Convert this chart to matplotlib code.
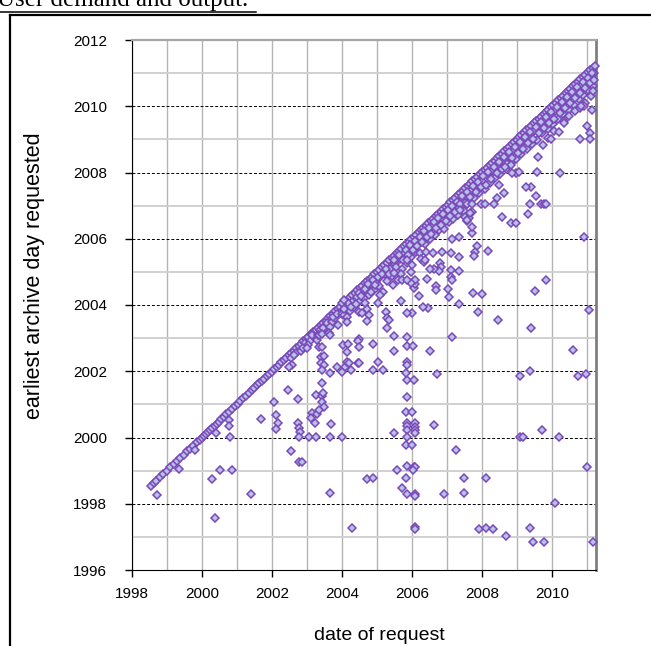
import matplotlib
matplotlib.use('Agg')
import matplotlib.pyplot as plt
from matplotlib.lines import Line2D
from matplotlib.ticker import MultipleLocator

plt.rcParams['font.family'] = ['Liberation Sans', 'DejaVu Sans']

# requests for the same day (earliest day requested = date of request)
same_day = [1998.55, 1998.62, 1998.70, 1998.80, 1998.90, 1999.00, 1999.10, 1999.20, 1999.28,
            1999.38, 1999.48, 1999.58, 1999.66, 1999.75, 1999.85, 1999.93, 2000.00, 2000.06,
            2000.12, 2000.18, 2000.24, 2000.30, 2000.36, 2000.42, 2000.48, 2000.55, 2000.62,
            2000.70, 2000.78, 2000.86, 2000.94, 2001.02, 2001.10, 2001.18, 2001.26, 2001.34,
            2001.42, 2001.50, 2001.57, 2001.64, 2001.71, 2001.78, 2001.85, 2001.92, 2001.99,
            2002.06, 2002.13, 2002.20, 2002.27, 2002.34, 2002.41, 2002.48, 2002.55, 2002.62,
            2002.69, 2002.76, 2002.83, 2002.90, 2002.97, 2003.04, 2003.11, 2003.18, 2003.25,
            2003.32, 2003.39, 2003.46, 2003.53, 2003.60, 2003.67, 2003.74, 2003.81, 2003.88,
            2003.95, 2004.02, 2004.09, 2004.16, 2004.23, 2004.30, 2004.37, 2004.44, 2004.51,
            2004.58, 2004.65, 2004.72, 2004.79, 2004.86, 2004.93, 2005.00, 2005.07, 2005.14,
            2005.21, 2005.28, 2005.35, 2005.42, 2005.49, 2005.56, 2005.63, 2005.70, 2005.77,
            2005.84, 2005.91, 2005.98, 2006.05, 2006.12, 2006.19, 2006.26, 2006.33, 2006.40,
            2006.47, 2006.54, 2006.61, 2006.68, 2006.75, 2006.82, 2006.89, 2006.96, 2007.03,
            2007.10, 2007.17, 2007.24, 2007.31, 2007.38, 2007.45, 2007.52, 2007.59, 2007.66,
            2007.73, 2007.80, 2007.87, 2007.94, 2008.01, 2008.08, 2008.15, 2008.22, 2008.29,
            2008.36, 2008.43, 2008.50, 2008.57, 2008.64, 2008.71, 2008.78, 2008.85, 2008.92,
            2008.99, 2009.06, 2009.13, 2009.20, 2009.27, 2009.34, 2009.41, 2009.48, 2009.55,
            2009.62, 2009.69, 2009.76, 2009.83, 2009.90, 2009.97, 2010.04, 2010.11, 2010.18,
            2010.25, 2010.32, 2010.39, 2010.46, 2010.53, 2010.60, 2010.67, 2010.74, 2010.81,
            2010.88, 2010.95, 2011.02, 2011.09, 2011.16, 2011.22]

# requests for recent days (band just under the diagonal)
recent_x = [2002.55, 2002.68, 2002.82, 2002.95, 2003.08, 2003.20, 2003.28, 2003.38, 2003.52, 2003.58,
            2003.72, 2003.80, 2003.88, 2003.95, 2004.05, 2004.12, 2004.22, 2004.28, 2004.35, 2004.42,
            2004.50, 2004.58, 2004.62, 2004.70, 2004.78, 2004.84, 2004.92, 2004.98, 2005.05, 2005.10,
            2005.18, 2005.22, 2005.30, 2005.38, 2005.42, 2005.52, 2005.58, 2005.66, 2005.72, 2005.78,
            2005.85, 2005.92, 2005.98, 2006.05, 2006.12, 2006.18, 2006.24, 2006.30, 2006.38, 2006.44,
            2006.52, 2006.58, 2006.66, 2006.72, 2006.78, 2006.86, 2006.92, 2006.98, 2007.05, 2007.12,
            2007.18, 2007.25, 2007.32, 2007.40, 2007.48, 2007.55, 2007.62, 2007.70, 2007.78, 2007.85,
            2007.92, 2008.00, 2008.08, 2008.15, 2008.22, 2008.30, 2008.38, 2008.45, 2008.52, 2008.60,
            2008.68, 2008.75, 2008.82, 2008.90, 2008.98, 2009.05, 2009.12, 2009.20, 2009.28, 2009.35,
            2009.42, 2009.50, 2009.58, 2009.65, 2009.72, 2009.80, 2009.88, 2009.95, 2010.02, 2010.10,
            2010.18, 2010.25, 2010.32, 2010.40, 2010.48, 2010.55, 2010.62, 2010.70, 2010.76, 2010.84,
            2010.90, 2010.98, 2011.04, 2011.10, 2011.16, 2011.20,
            2005.10, 2005.45, 2005.70, 2006.25, 2006.40, 2010.50, 2010.65, 2010.80, 2010.95, 2011.12,
            2011.18, 2010.35, 2009.90, 2010.05,
            2002.62, 2002.88, 2003.02, 2003.15, 2003.32, 2003.45, 2003.65, 2003.75, 2003.85, 2004.00,
            2004.08, 2004.18, 2004.25, 2004.40, 2004.48, 2004.55, 2004.66, 2004.74, 2004.82, 2004.88,
            2004.95, 2005.02, 2005.14, 2005.26, 2005.34, 2005.48, 2005.55, 2005.62, 2005.75, 2005.82,
            2005.88, 2005.95, 2006.02, 2006.08, 2006.15, 2006.22, 2006.28, 2006.35, 2006.42, 2006.48,
            2006.55, 2006.62, 2006.70, 2006.75, 2006.82, 2006.90, 2006.96, 2007.02, 2007.08, 2007.15,
            2007.22, 2007.28, 2007.35, 2007.44, 2007.52, 2007.58, 2007.66, 2007.74, 2007.82, 2007.88,
            2007.96, 2008.04, 2008.12, 2008.18, 2008.26, 2008.34, 2008.42, 2008.48, 2008.56, 2008.64,
            2008.72, 2008.78, 2008.86, 2008.94, 2009.02, 2009.08, 2009.16, 2009.24, 2009.32, 2009.38,
            2009.46, 2009.54, 2009.62, 2009.68, 2009.76, 2009.84, 2009.92, 2009.98, 2010.06, 2010.14,
            2010.22, 2010.28, 2010.36, 2010.44, 2010.52, 2010.58, 2010.66, 2010.72, 2010.80, 2010.88,
            2010.94, 2011.02, 2011.08, 2011.14, 2011.20]
recent_y = [2002.40, 2002.55, 2002.60, 2002.85, 2002.90, 2003.05, 2002.95, 2003.25, 2003.30, 2003.45,
            2003.50, 2003.62, 2003.40, 2003.75, 2003.85, 2003.98, 2003.82, 2004.10, 2003.95, 2004.25,
            2004.10, 2004.38, 2004.20, 2004.52, 2004.30, 2004.62, 2004.45, 2004.70, 2004.58, 2004.85,
            2004.40, 2004.95, 2004.72, 2005.10, 2004.88, 2005.25, 2005.02, 2005.40, 2005.10, 2005.55,
            2005.28, 2005.70, 2005.45, 2005.82, 2005.60, 2005.95, 2005.58, 2006.08, 2005.85, 2006.20,
            2005.98, 2006.35, 2006.12, 2006.48, 2006.25, 2006.62, 2006.30, 2006.75, 2006.52, 2006.88,
            2006.60, 2007.02, 2006.72, 2007.15, 2006.95, 2007.30, 2007.12, 2007.45, 2007.22, 2007.60,
            2007.38, 2007.75, 2007.50, 2007.92, 2007.68, 2008.05, 2007.82, 2008.20, 2007.95, 2008.35,
            2008.10, 2008.50, 2008.28, 2008.65, 2008.40, 2008.80, 2008.55, 2008.95, 2008.72, 2009.10,
            2008.85, 2009.25, 2008.98, 2009.40, 2009.18, 2009.55, 2009.30, 2009.72, 2009.45, 2009.85,
            2009.62, 2010.00, 2009.78, 2010.15, 2009.90, 2010.30, 2010.05, 2010.45, 2010.22, 2010.60,
            2010.35, 2010.72, 2010.50, 2010.88, 2010.62, 2011.00,
            2004.30, 2004.60, 2004.95, 2005.40, 2005.60, 2009.70, 2009.85, 2009.95, 2010.10, 2010.30,
            2010.45, 2009.55, 2009.05, 2009.25,
            2002.50, 2002.70, 2002.80, 2003.10, 2003.10, 2003.30, 2003.35, 2003.65, 2003.72, 2003.72,
            2003.90, 2004.05, 2003.95, 2004.02, 2004.35, 2004.28, 2004.48, 2004.62, 2004.40, 2004.75,
            2004.60, 2004.85, 2004.95, 2005.10, 2004.95, 2005.35, 2005.15, 2005.50, 2005.35, 2005.65,
            2005.50, 2005.80, 2005.65, 2005.92, 2005.78, 2006.05, 2005.90, 2006.22, 2006.05, 2006.32,
            2006.15, 2006.50, 2006.32, 2006.62, 2006.42, 2006.75, 2006.55, 2006.88, 2006.68, 2007.00,
            2006.82, 2007.12, 2006.92, 2007.28, 2007.08, 2007.42, 2007.25, 2007.58, 2007.40, 2007.72,
            2007.55, 2007.88, 2007.62, 2008.02, 2007.80, 2008.18, 2007.98, 2008.32, 2008.12, 2008.48,
            2008.25, 2008.62, 2008.45, 2008.78, 2008.60, 2008.92, 2008.70, 2009.08, 2008.90, 2009.22,
            2009.02, 2009.38, 2009.20, 2009.52, 2009.35, 2009.68, 2009.48, 2009.82, 2009.62, 2009.98,
            2009.80, 2010.12, 2009.95, 2010.28, 2010.10, 2010.42, 2010.25, 2010.58, 2010.40, 2010.72,
            2010.55, 2010.85, 2010.70, 2011.00, 2010.80]

# requests reaching further back into the archive
older_x = [1998.72, 1999.34, 1999.80, 2000.29, 2000.36, 2000.39, 2000.51, 2000.77, 2000.77, 2000.79,
           2000.86, 2001.40, 2001.68, 2002.06, 2002.12, 2002.17, 2002.12, 2002.46, 2002.55, 2002.75,
           2002.75, 2002.78, 2002.80, 2002.78, 2002.77, 2002.85, 2003.44, 2003.25, 2003.44, 2003.47,
           2003.42, 2003.15, 2003.30, 2003.50, 2003.35, 2003.12, 2003.22, 2003.06, 2003.25, 2003.65,
           2003.70, 2004.00, 2003.65, 2004.29, 2004.71, 2004.88, 2005.49, 2005.57, 2005.72, 2005.84,
           2005.87, 2005.86, 2006.06, 2005.86, 2005.84, 2006.00, 2005.87, 2005.87, 2005.87, 2005.87,
           2006.10, 2006.10, 2006.10, 2006.10, 2005.84, 2006.00, 2005.87, 2006.06, 2006.10, 2006.04,
           2006.10, 2006.10, 2006.10, 2006.10, 2006.63, 2006.91, 2007.27, 2007.49, 2007.49, 2007.93,
           2008.13, 2008.12, 2008.31, 2008.69, 2009.37, 2009.46, 2009.78, 2011.17, 2010.10, 2011.00,
           2009.10, 2009.18, 2009.72, 2010.20, 2009.10, 2009.37, 2010.74, 2010.98, 2010.61, 2009.41,
           2008.47, 2007.90, 2011.06, 2007.34, 2007.75, 2008.00, 2009.51, 2009.82, 2007.34, 2007.34,
           2007.85, 2007.80, 2007.77, 2008.18, 2010.91, 2008.58, 2008.82, 2008.96, 2009.32, 2007.37,
           2007.58, 2007.72, 2007.96, 2008.10, 2008.34, 2009.37, 2009.68, 2009.77, 2009.84, 2007.49,
           2007.72, 2007.53, 2007.63, 2007.58, 2010.91, 2010.84, 2011.15, 2011.01, 2011.10, 2011.10,
           2010.81, 2010.34, 2010.20, 2009.96, 2009.75, 2009.60, 2010.22, 2009.56, 2009.39, 2009.25,
           2009.55, 2008.63, 2008.44, 2008.49, 2008.96, 2009.06, 2008.87, 2008.82, 2008.67, 2007.12,
           2006.87, 2006.60, 2006.80, 2006.82, 2006.77, 2006.63, 2006.53, 2007.12, 2007.12, 2007.14,
           2006.44, 2006.69, 2006.69, 2007.03, 2007.06, 2006.20, 2006.47, 2006.32, 2007.15, 2006.51,
           2006.72, 2006.00, 2005.87, 2005.69, 2006.06, 2006.10, 2006.10, 2005.96, 2005.49, 2005.87,
           2005.87, 2006.04, 2005.49, 2005.87, 2005.87, 2005.82, 2005.25, 2005.30, 2005.34, 2005.03,
           2004.89, 2005.03, 2004.89, 2005.17, 2005.30, 2004.72, 2004.77, 2004.72, 2004.50, 2004.46,
           2004.49, 2004.15, 2004.03, 2004.18, 2004.46, 2004.50, 2004.27, 2004.08, 2004.15, 2004.20,
           2003.99, 2003.87, 2003.67, 2003.34, 2003.44, 2003.39, 2003.49, 2003.39, 2003.49, 2003.44,
           2003.34, 2003.44, 2003.63, 2003.67, 2003.01, 2002.58, 2002.49, 2004.00, 2004.05, 2004.06,
           2004.15, 2004.06, 2004.15, 2004.49, 2004.58, 2004.67, 2005.49, 2005.60, 2005.72, 2005.87,
           2005.96, 2006.00, 2005.87, 2006.34, 2006.38, 2007.15, 2007.34, 2007.72, 2007.72, 2007.58,
           2007.67, 2007.38]
older_y = [1998.26, 1999.05, 1999.61, 1998.74, 1997.58, 2000.13, 1999.02, 2000.53, 2000.35, 2000.01,
           1999.02, 1998.30, 2000.55, 2001.08, 2000.68, 2000.43, 2000.26, 2001.43, 1999.60, 2001.15,
           2000.43, 2000.30, 2000.18, 2000.03, 1999.27, 1999.26, 2001.64, 2001.28, 2001.25, 2001.35,
           2001.08, 2000.73, 2000.70, 2000.93, 2000.83, 2000.58, 2000.43, 2000.03, 2000.03, 2000.03,
           2000.41, 2000.03, 1998.32, 1997.26, 1998.74, 1998.77, 2000.13, 1999.02, 1998.47, 1998.77,
           1998.29, 2001.74, 2001.74, 2001.23, 2000.76, 2000.76, 2000.43, 2000.36, 2000.23, 2000.03,
           2000.43, 2000.33, 2000.23, 2000.13, 1999.77, 1999.77, 1999.14, 1999.10, 1999.12, 1999.02,
           1998.29, 1998.23, 1997.31, 1997.24, 2000.38, 1998.29, 1999.62, 1998.77, 1998.32, 1997.24,
           1998.77, 1997.28, 1997.24, 1997.03, 1997.26, 1996.86, 1996.86, 1996.86, 1998.03, 1999.12,
           2000.03, 2000.03, 2000.23, 2000.03, 2001.86, 2002.02, 2001.86, 2001.92, 2002.63, 2003.30,
           2003.55, 2003.79, 2003.85, 2004.02, 2004.37, 2004.34, 2004.42, 2004.75, 2005.03, 2005.44,
           2005.78, 2005.59, 2005.48, 2005.63, 2006.04, 2006.67, 2006.48, 2006.48, 2006.74, 2007.05,
           2007.05, 2007.05, 2007.05, 2007.05, 2007.05, 2007.05, 2007.05, 2007.05, 2007.05, 2006.85,
           2006.80, 2006.67, 2006.62, 2006.55, 2010.00, 2010.00, 2009.89, 2009.41, 2009.18, 2009.00,
           2009.01, 2009.49, 2009.21, 2009.00, 2008.83, 2008.46, 2008.00, 2008.02, 2007.57, 2007.57,
           2007.30, 2007.37, 2007.22, 2007.62, 2007.97, 2008.02, 2007.97, 2008.22, 2008.18, 2005.58,
           2005.59, 2005.56, 2005.26, 2005.16, 2005.03, 2005.09, 2005.09, 2005.06, 2004.84, 2004.75,
           2004.80, 2004.57, 2004.45, 2004.47, 2004.23, 2004.27, 2003.90, 2003.95, 2003.04, 2002.62,
           2001.92, 2003.75, 2003.77, 2004.12, 2004.52, 2004.62, 2004.75, 2004.65, 2003.06, 2003.04,
           2002.77, 2002.77, 2002.62, 2002.29, 2002.19, 2001.94, 2003.80, 2003.60, 2003.55, 2004.05,
           2002.82, 2002.29, 2002.04, 2002.04, 2003.31, 2003.88, 2003.70, 2003.53, 2002.96, 2002.92,
           2002.74, 2002.59, 2002.79, 2002.82, 2002.24, 2002.24, 2002.04, 2002.14, 2002.27, 2002.24,
           2001.99, 2002.14, 2001.96, 2002.74, 2002.74, 2002.44, 2002.46, 2002.24, 2002.19, 2002.04,
           2003.09, 2003.12, 2003.15, 2003.09, 2002.69, 2002.19, 2002.14, 2004.05, 2004.15, 2003.70,
           2003.65, 2003.87, 2003.50, 2003.80, 2003.75, 2004.05, 2004.96, 2004.75, 2004.75, 2004.75,
           2005.01, 2005.21, 2005.36, 2005.31, 2005.36, 2005.99, 2006.06, 2006.16, 2006.36, 2006.57,
           2006.77, 2006.87]

x_ticks = [1998, 2000, 2002, 2004, 2006, 2008, 2010]
y_ticks = [1996, 1998, 2000, 2002, 2004, 2006, 2008, 2010, 2012]

fig = plt.figure(figsize=(6.51, 6.46), dpi=100)
ax = fig.add_axes([132 / 651, 1 - 570 / 646, 464 / 651, 530 / 646])

marker = dict(linestyle='none', marker='D', markersize=4.2, markerfacecolor='#b6c2ea',
              markeredgecolor='#7a48b8', markeredgewidth=1.1, clip_on=False, zorder=3)
ax.plot(same_day, same_day, **marker)
ax.plot(recent_x, recent_y, **marker)
ax.plot(older_x, older_y, **marker)

ax.set_xlim(1998, 2011.26)
ax.set_ylim(1996, 2012)
ax.set_xticks(x_ticks)
ax.set_yticks(y_ticks)
ax.xaxis.set_minor_locator(MultipleLocator(1))
ax.yaxis.set_minor_locator(MultipleLocator(1))
ax.tick_params(which='major', direction='out', length=5, width=1, color='black',
               labelsize=11, top=False, right=False)
ax.tick_params(which='minor', length=0)
ax.tick_params(axis='x', pad=7)
ax.tick_params(axis='y', pad=13)

ax.grid(axis='x', which='both', color='#b4b4b4', linewidth=1.0, zorder=0)
ax.grid(axis='y', which='major', color='black', linestyle=(0, (3, 2)), linewidth=0.7, zorder=0)
ax.grid(axis='y', which='minor', color='#d0d0d0', linewidth=1.4, zorder=0)
ax.set_axisbelow(True)

ax.spines['left'].set_color('black')
ax.spines['bottom'].set_color('black')
ax.spines['top'].set_color('#a6a6a6')
ax.spines['top'].set_linewidth(1.6)
ax.spines['right'].set_color('#808080')
ax.spines['right'].set_linewidth(2)

ax.set_xlabel('date of request', fontsize=14)
ax.xaxis.set_label_coords((379 - 132) / 464, -57 / 530)
ax.set_ylabel('earliest archive day requested', fontsize=15.5, va='center')
ax.yaxis.set_label_coords(-97 / 464, (570 - 276) / 530)

# page elements around the chart
fig.text(-0.004, 1 - 6 / 646, 'User demand and output.', family='Liberation Serif',
         fontsize=18, va='baseline')
fig.add_artist(Line2D([0, 256 / 651], [1 - 12 / 646, 1 - 12 / 646], color='black', lw=1.1))
fig.add_artist(Line2D([9.5 / 651, 1], [1 - 14.5 / 646, 1 - 14.5 / 646], color='black', lw=1.6))
fig.add_artist(Line2D([9.5 / 651, 9.5 / 651], [0, 1 - 14.5 / 646], color='black', lw=1.6))

fig.savefig('out.png', dpi=100)
